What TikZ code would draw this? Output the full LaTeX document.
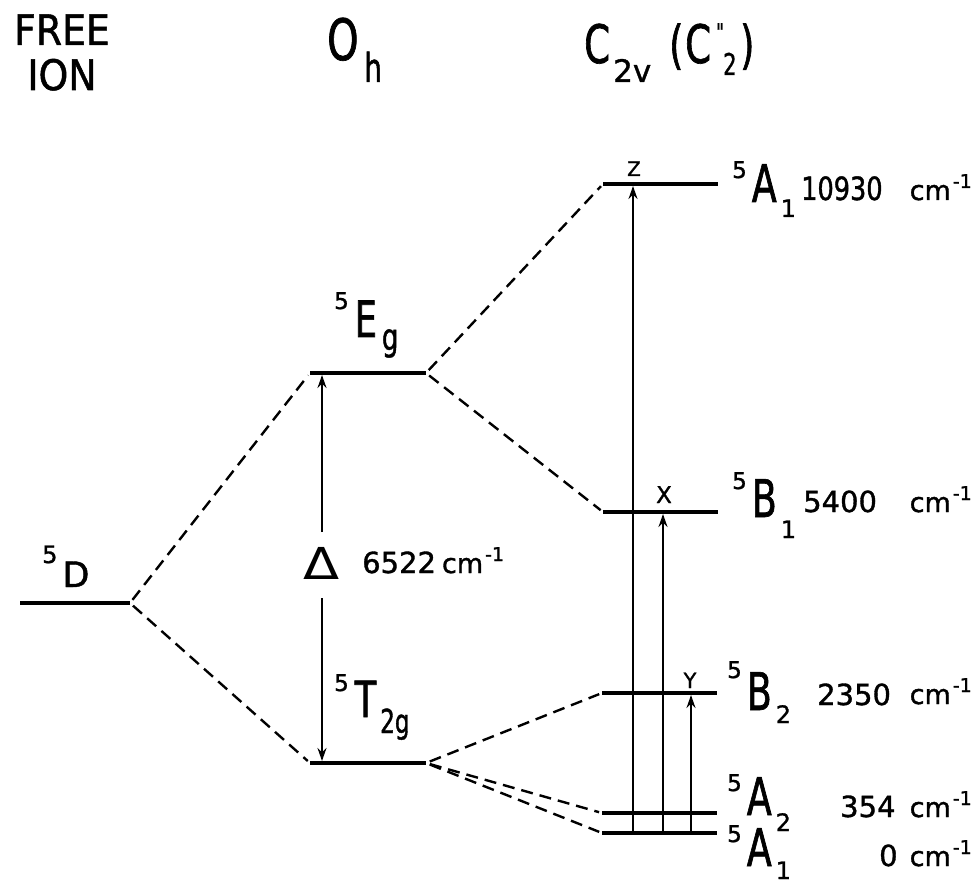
\documentclass[tikz,border=0pt]{standalone}
\usepackage{fontspec}
\usetikzlibrary{arrows.meta}
\newfontfamily\fnorm{DejaVu Sans}[FakeBold=1.2]
\newfontfamily\fthin{DejaVu Sans}
\newfontfamily\fmid{DejaVu Sans}[FakeStretch=0.8,FakeBold=1.2]
\newfontfamily\fnar{DejaVu Sans}[FakeStretch=0.7,FakeBold=1.2]
\newfontfamily\fhead{DejaVu Sans}[FakeStretch=0.9,FakeBold=1.2]
\newcommand\fs[1]{\fontsize{#1}{#1}\selectfont}
\newcommand\cmi{{\fnorm\fs{27}cm}\kern2pt\raisebox{12pt}{\fnorm\fs{19}-1}}
% term symbol: raise of sup, sup, letter, lowering of sub, sub
\newcommand\trm[5]{\raisebox{#1pt}{\fnorm\fs{23}#2}\kern5pt{\fnar\fs{52}#3}\kern4pt\raisebox{-#4pt}{\fnorm\fs{24}#5}}
\begin{document}
\begin{tikzpicture}[x=1pt,y=-1pt,
  level/.style={line width=3.5pt},
  corr/.style={line width=2.4pt, dash pattern=on 12pt off 7pt, shorten <=4pt, shorten >=3pt},
  trans/.style={line width=1.9pt, -{Stealth[length=13pt,width=9pt]}, shorten >=2pt},
  lbl/.style={inner sep=0pt, anchor=base west},
  num/.style={inner sep=0pt, anchor=base west, font=\fnorm\fs{29}},
  unit/.style={inner sep=0pt, anchor=base east}]
\fill[white] (0,0) rectangle (980,885);
\useasboundingbox (0,0) rectangle (980,885);

% ---------- headers ----------
\node[inner sep=0pt, anchor=base, font=\fhead\fs{42}] (hfree) at (62,45) {FREE};
\node[inner sep=0pt, anchor=base, font=\fhead\fs{42}] (hion) at (62,90) {ION};
\node[lbl, font=\fnar\fs{57}] (hO) at (327,60) {O};
\node[lbl, font=\fnar\fs{40}] (hh) at (364,82) {h};
\node[lbl, font=\fnar\fs{53}] (hC) at (584,63) {C};
\node[lbl, font=\fnorm\fs{31}] (h2v) at (613,82) {2v};
\node[lbl, font=\fnar\fs{52}] (hpl) at (669,63) {(};
\node[lbl, font=\fnar\fs{53}] (hC2) at (685,63) {C};
\node[inner sep=0pt, anchor=north west, font=\fnar\fs{24}] (hdp) at (716,23) {\symbol{34}};
\node[lbl, font=\fnar\fs{30}] (hsub) at (723,75) {2};
\node[lbl, font=\fnar\fs{52}] (hpr) at (740,63) {)};

% ---------- level end points ----------
\coordinate (DL) at (20,603);   \coordinate (DR) at (130,603);
\coordinate (EgL) at (310,373); \coordinate (EgR) at (426,373);
\coordinate (TL) at (310,763);  \coordinate (TR) at (426,763);
\coordinate (A1tL) at (603,184); \coordinate (A1tR) at (718,184);
\coordinate (B1L) at (603,512);  \coordinate (B1R) at (718,512);
\coordinate (B2L) at (602,693);  \coordinate (B2R) at (717,693);
\coordinate (A2L) at (602,813);  \coordinate (A2R) at (717,813);
\coordinate (A1L) at (602,833);  \coordinate (A1R) at (717,833);

% ---------- levels ----------
\draw[level] (DL) -- (DR);
\draw[level] (EgL) -- (EgR);
\draw[level] (TL) -- (TR);
\draw[level] (A1tL) -- (A1tR);
\draw[level] (B1L) -- (B1R);
\draw[level] (B2L) -- (B2R);
\draw[level] (A2L) -- (A2R);
\draw[level] (A1L) -- (A1R);

% ---------- correlation lines ----------
\draw[corr] (DR) -- (EgL);
\draw[corr] (DR) -- (TL);
\draw[corr] (EgR) -- (A1tL);
\draw[corr] (EgR) -- (B1L);
\draw[corr] (TR) -- (B2L);
\draw[corr] (TR) -- (A2L);
\draw[corr] (TR) -- (A1L);

% ---------- transitions ----------
\coordinate (zb) at (633,833); \coordinate (zt) at (633,184);
\coordinate (xb) at (663,833); \coordinate (xt) at (663,512);
\coordinate (yb) at (691,833); \coordinate (yt) at (691,693);
\draw[trans] (zb) -- (zt);
\draw[trans] (xb) -- (xt);
\draw[trans] (yb) -- (yt);
\node[inner sep=0pt, anchor=base, font=\fnorm\fs{20}] (lz) at (634,176) {Z};
\node[inner sep=0pt, anchor=base, font=\fnorm\fs{23}] (lx) at (664,503) {X};
\node[inner sep=0pt, anchor=base, font=\fnorm\fs{21}] (ly) at (690,688) {Y};

% ---------- Delta ----------
\node[inner sep=0pt, font=\fthin\fs{44}] (delta) at (322,563) {\scalebox{1.2}[1]{Δ}};
\coordinate (dU) at (322,532); \coordinate (dL) at (322,598);
\coordinate (dTop) at (322,373); \coordinate (dBot) at (322,763);
\draw[trans] (dU) -- (dTop);
\draw[trans] (dL) -- (dBot);
\node[lbl] (dval) at (362,573) {{\fnorm\fs{29}6522}\kern6pt\cmi};

% ---------- term labels ----------
\node[lbl] (tD) at (42,587) {\raisebox{24pt}{\fnorm\fs{24}5}\kern5pt{\fnorm\fs{35}D}};
\node[lbl] (tEg) at (334,337) {\raisebox{28pt}{\fnorm\fs{23}5}\kern6pt{\fnar\fs{50}E}\kern5pt\raisebox{-13pt}{\fnar\fs{37}g}};
\node[lbl] (tT) at (334,717) {\raisebox{26pt}{\fnorm\fs{23}5}\kern6pt{\fnar\fs{50}T}\kern4pt\raisebox{-16pt}{\fnar\fs{33}2g}};

\node[lbl] (tA1t) at (732,202) {\trm{24}{5}{A}{15}{1}};
\node[lbl] (tB1) at (732,517) {\trm{28}{5}{B}{21}{1}};
\node[lbl] (tB2) at (727,710) {\trm{32}{5}{B}{13}{2}};
\node[lbl] (tA2) at (727,815) {\trm{24}{5}{A}{16}{2}};
\node[lbl] (tA1) at (727,866) {\trm{24}{5}{A}{13}{1}};

% ---------- energies ----------
\node[num, font=\fmid\fs{32}] (e1) at (801,200) {10930};
\node[num] (e2) at (803,512) {5400};
\node[num] (e3) at (817,705) {2350};
\node[num] (e4) at (840,817) {354};
\node[num] (e5) at (879,866) {0};
\node[unit] (u1) at (972,200) {\cmi};
\node[unit] (u2) at (972,512) {\cmi};
\node[unit] (u3) at (972,704) {\cmi};
\node[unit] (u4) at (972,817) {\cmi};
\node[unit] (u5) at (972,866) {\cmi};
\end{tikzpicture}
\end{document}
